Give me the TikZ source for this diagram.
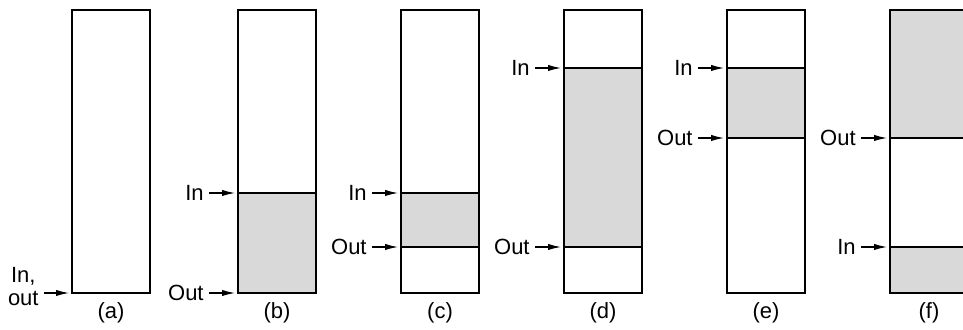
\documentclass[tikz,border=0pt]{standalone}
\usepackage{fontspec}
\setmainfont{Liberation Sans}
\usetikzlibrary{arrows.meta, positioning, calc}
\definecolor{bufgray}{RGB}{217,217,217}
\tikzset{
  buf/.style={draw=black, line width=1.2pt},
  used/.style={fill=bufgray},
  lbl/.style={font=\fontsize{11}{11.5}\selectfont, inner sep=0pt},
  ptr/.style={-{Latex[length=6.5pt,width=3.2pt]}, line width=0.6pt,
    shorten <=2.5pt, shorten >=1.5pt}
}
% pointer at a buffer edge: name, x, y, text
\newcommand{\bufptr}[4]{%
  \coordinate (#1) at (#2,#3);
  \node[lbl, anchor=east] (#1l) at ([xshift=-17pt]#1) {#4};
  \draw[ptr] (#1l) -- (#1);
}

\begin{document}
\begin{tikzpicture}[x=0.5pt, y=-0.5pt]
  \useasboundingbox (0,0) rectangle (963,330);

  % Filled parts
  \fill[used] (238,193) rectangle (316,293);
  \fill[used] (401,193) rectangle (479,247);
  \fill[used] (564,68) rectangle (642,247);
  \fill[used] (727,68) rectangle (805,138);
  \fill[used] (890,10) rectangle (968,138);
  \fill[used] (890,247) rectangle (968,293);

  % Pointer levels
  \draw[buf] (238,193) -- ++(78,0);
  \draw[buf] (401,193) -- ++(78,0);
  \draw[buf] (401,247) -- ++(78,0);
  \draw[buf] (564,68) -- ++(78,0);
  \draw[buf] (564,247) -- ++(78,0);
  \draw[buf] (727,68) -- ++(78,0);
  \draw[buf] (727,138) -- ++(78,0);
  \draw[buf] (890,138) -- ++(78,0);
  \draw[buf] (890,247) -- ++(78,0);

  % Buffers and captions
  \foreach \x/\tag in {72/a,238/b,401/c,564/d,727/e,890/f}{
    \draw[buf] (\x,10) rectangle ++(78,283);
    \node[lbl] (cap\tag) at (\x+39,313) {(\tag)};
  }

  % (a)
  \coordinate (aIO) at (72,293);
  \node[lbl, align=center, anchor=east] (aIOl) at ([xshift=-16.5pt, yshift=3pt]aIO) {In,\\out};
  \draw[ptr] (aIOl.east |- aIO) -- (aIO);

  % (b) - (f)
  \bufptr{bIn}{238}{193}{In}
  \bufptr{bOut}{238}{293}{Out}
  \bufptr{cIn}{401}{193}{In}
  \bufptr{cOut}{401}{247}{Out}
  \bufptr{dIn}{564}{68}{In}
  \bufptr{dOut}{564}{247}{Out}
  \bufptr{eIn}{727}{68}{In}
  \bufptr{eOut}{727}{138}{Out}
  \bufptr{fOut}{890}{138}{Out}
  \bufptr{fIn}{890}{247}{In}
\end{tikzpicture}
\end{document}
